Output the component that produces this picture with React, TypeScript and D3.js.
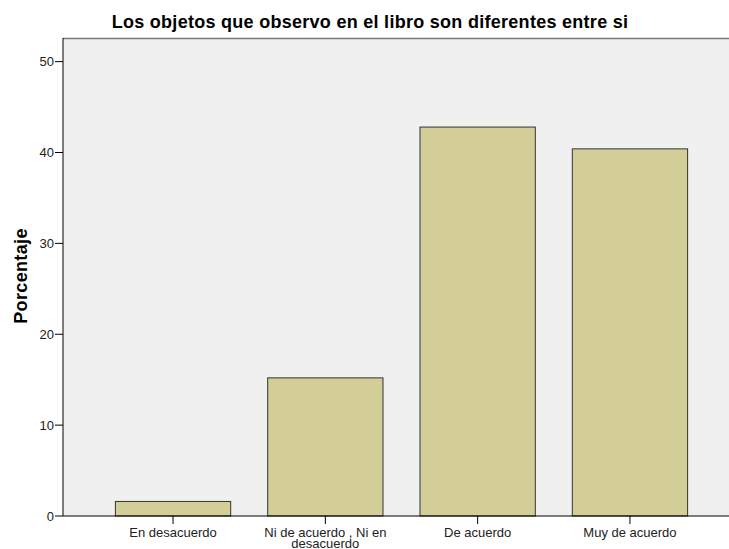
import React from "react";
import * as d3 from "d3";

const categories = ["En desacuerdo", "Ni de acuerdo , Ni en desacuerdo", "De acuerdo", "Muy de acuerdo"];
const categoryLines = [["En desacuerdo"], ["Ni de acuerdo , Ni en", "desacuerdo"], ["De acuerdo"], ["Muy de acuerdo"]];
const percentages = [1.6, 15.2, 42.8, 40.4];
const yTicks = [0, 10, 20, 30, 40, 50];
const title = "Los objetos que observo en el libro son diferentes entre si";
const yLabel = "Porcentaje";

const W = 729;
const H = 549;
const left = 63;
const right = 740;
const top = 38;
const bottom = 516;

export default function App() {
  const x = d3.scaleBand<string>().domain(categories).range([left, right]).paddingInner(0.243).paddingOuter(0.344);
  const y = d3.scaleLinear().domain([0, 52.6]).range([bottom, top]);
  const font = "Arial, 'Liberation Sans', sans-serif";
  return (
    <svg width={W} height={H} style={{ position: "absolute", left: 0, top: 0, background: "#fff" }} fontFamily={font}>
      <rect x={left} y={top} width={right - left} height={bottom - top} fill="#f0f0f0" />
      <line x1={left} x2={right} y1={top + 0.5} y2={top + 0.5} stroke="#777" strokeWidth={1.5} />
      {categories.map((c, i) => (
        <rect
          key={c}
          x={x(c)!}
          y={y(percentages[i])}
          width={x.bandwidth()}
          height={bottom - y(percentages[i])}
          fill="#d3ce97"
          stroke="#333"
          strokeWidth={1}
        />
      ))}
      <line x1={left} x2={left} y1={top} y2={bottom} stroke="#000" strokeWidth={1} />
      <line x1={left} x2={right} y1={bottom} y2={bottom} stroke="#000" strokeWidth={1} />
      {yTicks.map((t) => (
        <g key={t}>
          <line x1={left - 8} x2={left} y1={y(t)} y2={y(t)} stroke="#000" />
          <text x={left - 9} y={y(t)} dy="0.36em" textAnchor="end" fontSize={13} fill="#222">
            {t}
          </text>
        </g>
      ))}
      {categories.map((c, i) => {
        const cx = x(c)! + x.bandwidth() / 2;
        return (
          <g key={c}>
            <line x1={cx} x2={cx} y1={bottom} y2={bottom + 8} stroke="#000" />
            {categoryLines[i].map((ln, j) => (
              <text key={j} x={cx} y={537 + j * 11} textAnchor="middle" fontSize={13} fill="#222">
                {ln}
              </text>
            ))}
          </g>
        );
      })}
      <text x={370} y={28} textAnchor="middle" fontSize={18} letterSpacing={0.28} fontWeight="bold" fill="#000">
        {title}
      </text>
      <text transform={`translate(27, 276) rotate(-90)`} textAnchor="middle" fontSize={18} letterSpacing={0.35} fontWeight="bold" fill="#000">
        {yLabel}
      </text>
    </svg>
  );
}
